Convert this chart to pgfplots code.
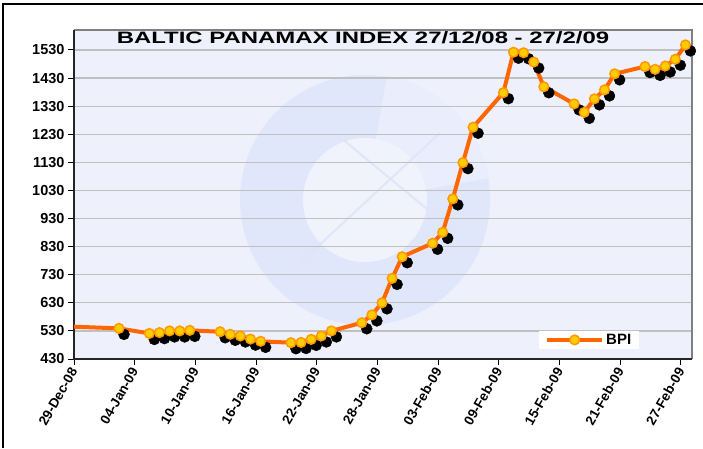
\documentclass[border=0pt]{standalone}
\usepackage{pgfplots}
\pgfplotsset{compat=1.18}
\usepackage{pgfplotstable}
\usepackage{graphicx}
\usepackage{fontspec}
\setmainfont{Liberation Sans}

\definecolor{bpiline}{RGB}{255,102,0}
\definecolor{bpifill}{RGB}{255,204,0}
\definecolor{bpiedge}{RGB}{255,153,0}
\definecolor{plotbg}{RGB}{238,240,252}
\definecolor{ring}{RGB}{224,231,251}
\definecolor{ringlight}{RGB}{233,237,252}
\definecolor{ringline}{RGB}{226,228,248}
\definecolor{gridgray}{RGB}{192,192,192}
\definecolor{framegray}{RGB}{128,128,128}

% day 0 = 29-Dec-08
\pgfplotstableread{
x      y
4.45   539
7.45   521
8.45   524
9.45   530
10.45  530
11.45  532
14.45  527
15.45  518
16.45  512
17.45  501
18.45  493
21.45  488
22.45  489
23.45  500
24.45  512
25.45  530
28.45  559
29.45  587
30.45  630
31.45  717
32.45  794
35.45  842
36.45  881
37.45  1000
38.45  1129
39.45  1255
42.45  1378
43.45  1522
44.45  1520
45.45  1487
46.45  1399
49.45  1338
50.45  1308
51.45  1356
52.45  1388
53.45  1445
56.45  1471
57.45  1461
58.45  1473
59.45  1497
60.45  1548
}\bpidata

\begin{document}
\begin{tikzpicture}[x=1pt,y=1pt]
\useasboundingbox (0,0) rectangle (703,448);
\draw[line width=1.2pt] (3,0) -- (3,444) -- (703,444);

% plot area background with faint logo
\fill[plotbg] (74,89) rectangle (692,418);
\begin{scope}
  \clip (74,89) rectangle (692,418);
  \fill[ring] (365,248) circle (125);
  \fill[ringlight] (365,248) -- ++(10:126) arc (10:80:126) -- cycle;
  \fill[plotbg!85!white] (365,248) circle (62);
  \draw[ringline, line width=2pt] (300,185) -- (440,315);
  \draw[ringline, line width=2pt] (335,315) -- (450,220);
\end{scope}

\begin{axis}[
  name=ax, at={(74pt,89pt)}, anchor=south west,
  scale only axis, width=618pt, height=329pt,
  xmin=0, xmax=61.1, ymin=430, ymax=1601,
  axis line style={draw=none},
  clip=false,
  tick pos=left, tick align=outside, major tick length=6pt,
  tick style={black, line width=1pt},
  xtick={0,6,...,60},
  xticklabels={29-Dec-08,04-Jan-09,10-Jan-09,16-Jan-09,22-Jan-09,28-Jan-09,03-Feb-09,09-Feb-09,15-Feb-09,21-Feb-09,27-Feb-09},
  ytick={430,530,...,1530},
  ymajorgrids, grid style={gridgray, line width=1.2pt},
  xticklabel style={font=\fontsize{13.5}{14}\selectfont\bfseries, rotate=60, anchor=east, yshift=-2pt},
  yticklabel style={font=\fontsize{14.5}{15}\selectfont\bfseries},
  /pgf/number format/assume math mode=true,
  /pgf/number format/1000 sep={},
  legend style={at={(0.7524,0.0304)}, anchor=south west, draw=none, fill=white,
    font=\fontsize{15}{15}\selectfont\bfseries, inner xsep=6pt, inner ysep=1pt,
    nodes={inner sep=2pt}},
  legend image code/.code={
    \draw[bpiline, line width=4pt] (0pt,0pt) -- (55pt,0pt);
    \draw[fill=bpifill, draw=bpiedge, line width=1.5pt] (27.5pt,0pt) circle (4.8pt);
  },
]
\draw[framegray, line width=2.5pt] (rel axis cs:1,0) -- (rel axis cs:1,1) -- (rel axis cs:0,1);
\draw[black!85, line width=1.5pt] (rel axis cs:0,1) -- (rel axis cs:0,0) -- (rel axis cs:1,0);

\addplot[forget plot, only marks, mark=*, mark size=5.5pt,
  mark options={fill=black, draw=black, xshift=5pt, yshift=-6pt}] table[x=x,y=y] {\bpidata};
\addplot[forget plot, no marks, draw=bpiline, line width=4pt] coordinates {(0,545) (4.45,539)};
\addplot[forget plot, no marks, draw=bpiline, line width=4pt, line join=round] table[x=x,y=y] {\bpidata};
\addplot[only marks, mark=*, mark size=4.8pt,
  mark options={fill=bpifill, draw=bpiedge, line width=1.5pt}] table[x=x,y=y] {\bpidata};
\addlegendentry{BPI}
\end{axis}

\node[anchor=base, font=\fontsize{16.5}{17}\selectfont\bfseries] at (363,404)
  {\scalebox{1.45}[1]{BALTIC PANAMAX INDEX 27/12/08 - 27/2/09}};
\end{tikzpicture}
\end{document}
